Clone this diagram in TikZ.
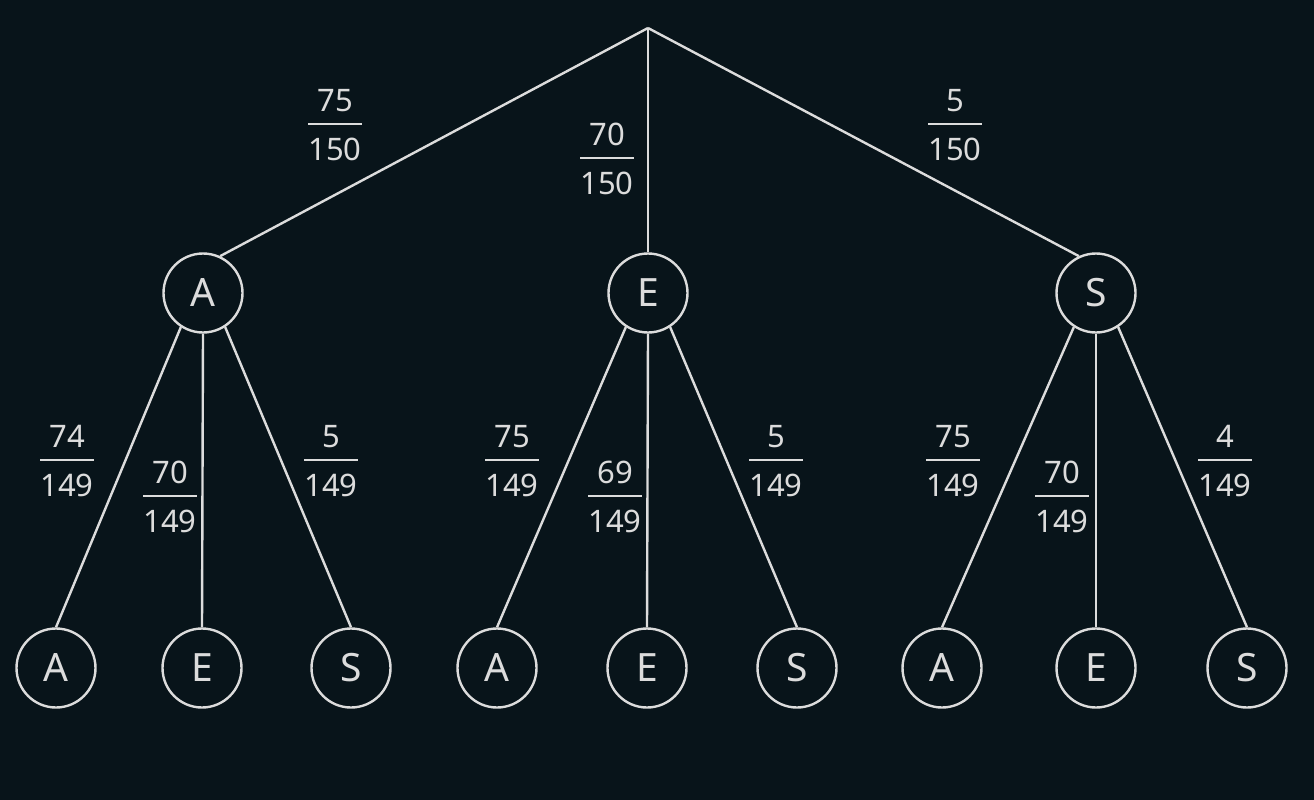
\documentclass[tikz,border=0pt]{standalone}
\usepackage{fontspec}
\setmainfont{Noto Sans}
\usepackage{array}
\usepackage{colortbl}
\definecolor{bg}{HTML}{08141A}
\definecolor{fg}{HTML}{DCDCDC}
\newcommand\frc[2]{{\fontsize{31}{37}\selectfont\setlength{\arrayrulewidth}{2pt}\arrayrulecolor{fg}%
\begin{tabular}{@{}c@{}}#1\\\hline\rule{0pt}{36pt}#2\end{tabular}}}
\begin{document}
\begin{tikzpicture}[x=1pt,y=-1pt,
  st/.style={circle,draw=fg,line width=2.4pt,minimum size=79pt,inner sep=0pt,text=fg,font=\fontsize{39}{44}\selectfont},
  edge/.style={draw=fg,line width=2.4pt},
  lab/.style={inner sep=0pt,text=fg}]
\fill[bg] (0,0) rectangle (1314,800);
\useasboundingbox (0,0) rectangle (1314,800);
\coordinate (r) at (648,28);
\node[st] (a) at (203,293) {A};
\node[st] (e) at (648,293) {E};
\node[st] (s) at (1096,293) {S};
\node[st] (aa) at (56,668) {A};
\node[st] (ae) at (202,668) {E};
\node[st] (as) at (351,668) {S};
\node[st] (ea) at (497,668) {A};
\node[st] (ee) at (647,668) {E};
\node[st] (es) at (797,668) {S};
\node[st] (sa) at (942,668) {A};
\node[st] (se) at (1096,668) {E};
\node[st] (ss) at (1247,668) {S};
\draw[edge] (r) -- (a.65);
\draw[edge] (r) -- (e.north);
\draw[edge] (r) -- (s.115);
\foreach \p in {a,e,s}{
  \draw[edge] (\p.-123) -- (\p a.north);
  \draw[edge] (\p.south) -- (\p e.north);
  \draw[edge] (\p.-57) -- (\p s.north);
}
\node[lab] (l1) at (335,129) {\frc{75}{150}};
\node[lab] (l2) at (607,163) {\frc{70}{150}};
\node[lab] (l3) at (955,129) {\frc{5}{150}};
\node[lab] (l4) at (67,465) {\frc{74}{149}};
\node[lab] (l5) at (170,501) {\frc{70}{149}};
\node[lab] (l6) at (331,465) {\frc{5}{149}};
\node[lab] (l7) at (512,465) {\frc{75}{149}};
\node[lab] (l8) at (615,501) {\frc{69}{149}};
\node[lab] (l9) at (776,465) {\frc{5}{149}};
\node[lab] (l10) at (953,465) {\frc{75}{149}};
\node[lab] (l11) at (1062,501) {\frc{70}{149}};
\node[lab] (l12) at (1225,465) {\frc{4}{149}};
\end{tikzpicture}
\end{document}
